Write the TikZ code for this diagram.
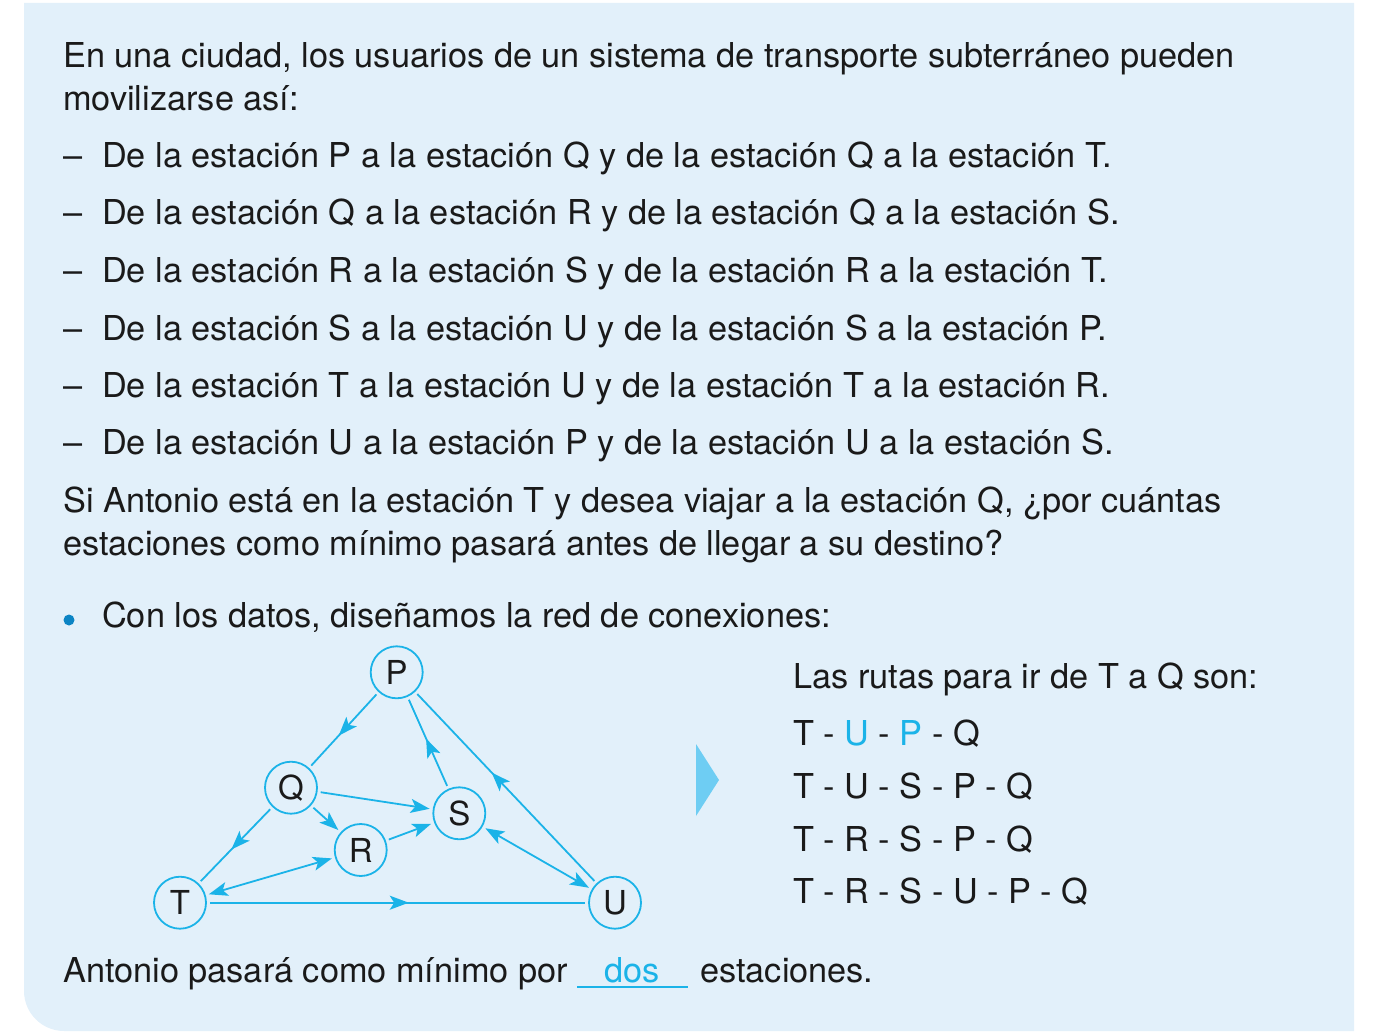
\documentclass[tikz,border=0pt]{standalone}
\usepackage{fontspec}
\setmainfont{TeX Gyre Heros}
\usetikzlibrary{arrows.meta,decorations.markings}
\definecolor{bgblue}{HTML}{E2F0FA}
\definecolor{cyanline}{HTML}{1BB3E8}
\definecolor{tricol}{HTML}{6ECDF3}
\definecolor{bulletcol}{HTML}{0B84C4}
\definecolor{txtc}{HTML}{1A1A1A}
\begin{document}
\begin{tikzpicture}[x=1pt,y=-1pt,
  txt/.style={anchor=base west, inner sep=0pt, font=\fontsize{34.3}{40}\selectfont, text=txtc},
  station/.style={circle, draw=cyanline, line width=1.8pt, minimum size=52pt, inner sep=0pt, outer sep=4pt, font=\fontsize{33}{34}\selectfont, text=txtc},
  conn/.style={draw=cyanline, line width=1.8pt},
  endtip/.style={-{Stealth[length=19pt,width=14pt,inset=4.5pt]}},
  bothtip/.style={{Stealth[length=19pt,width=14pt,inset=4.5pt]}-{Stealth[length=19pt,width=14pt,inset=4.5pt]}},
  midarrow/.style={postaction={decorate}, decoration={markings, mark=at position #1 with {\arrow[cyanline]{Stealth[length=19pt,width=14pt,inset=4.5pt]}}}}
]
\useasboundingbox (0,0) rectangle (1378,1035);
% background panel
\fill[bgblue] (24,3) -- (1354,3) -- (1354,1031) -- (64,1031) .. controls (42,1031) and (24,1013) .. (24,991) -- cycle;

% statement
\node[txt] (l1) at (63,67.5) {En una ciudad, los usuarios de un sistema de transporte subterráneo pueden};
\node[txt] (l2) at (63,111) {movilizarse así:};
\foreach \y/\t [count=\i] in {168/{De la estación P a la estación Q y de la estación Q a la estación T.},
  225/{De la estación Q a la estación R y de la estación Q a la estación S.},
  282/{De la estación R a la estación S y de la estación R a la estación T.},
  340/{De la estación S a la estación U y de la estación S a la estación P.},
  397/{De la estación T a la estación U y de la estación T a la estación R.},
  454/{De la estación U a la estación P y de la estación U a la estación S.}}{
  \node[txt] (dash\i) at (63,\y) {–};
  \node[txt] (item\i) at (102,\y) {\t};
}
\node[txt] (q1) at (63,512) {Si Antonio está en la estación T y desea viajar a la estación Q, ¿por cuántas};
\node[txt] (q2) at (63,555) {estaciones como mínimo pasará antes de llegar a su destino?};

% bullet
\fill[bulletcol] (69,620) circle (5.5pt);
\node[txt] (b1) at (102,627) {Con los datos, diseñamos la red de conexiones:};

% graph
\node[station] (P) at (396.7,672.3) {P};
\node[station] (Q) at (291,787.7) {Q};
\node[station] (S) at (459.3,813.3) {S};
\node[station] (R) at (360.7,850) {R};
\node[station] (T) at (180,902.7) {T};
\node[station] (U) at (615,902.7) {U};

\draw[conn, midarrow=0.58] (P) -- (Q);
\draw[conn, midarrow=0.56] (Q) -- (T);
\draw[conn, endtip] (Q) -- (S);
\draw[conn, endtip] (Q) -- (R);
\draw[conn, endtip] (R) -- (S);
\draw[conn, bothtip] (T) -- (R);
\draw[conn, midarrow=0.55] (S) -- (P);
\draw[conn, midarrow=0.58] (U) -- (P);
\draw[conn, bothtip] (S) -- (U);
\draw[conn, midarrow=0.53] (T) -- (U);

% pointer triangle
\fill[tricol] (696,744) -- (719,780) -- (696,816) -- cycle;

% routes
\node[txt] (r0) at (793,688) {Las rutas para ir de T a Q son:};
\node[txt] (r1) at (793,745) {T - \textcolor{cyanline}{U} - \textcolor{cyanline}{P} - Q};
\node[txt] (r2) at (793,798) {T - U - S - P - Q};
\node[txt] (r3) at (793,851) {T - R - S - P - Q};
\node[txt] (r4) at (793,903) {T - R - S - U - P - Q};

% answer
\node[txt] (a1) at (63,982) {Antonio pasará como mínimo por};
\coordinate (ulA) at (577,987);
\coordinate (ulB) at (688,987);
\draw[cyanline, line width=1.6pt] (ulA) -- (ulB);
\node[txt, anchor=base, text=cyanline] (ans) at (632,982) {dos};
\node[txt] (a2) at (700,982) {estaciones.};
\end{tikzpicture}
\end{document}
